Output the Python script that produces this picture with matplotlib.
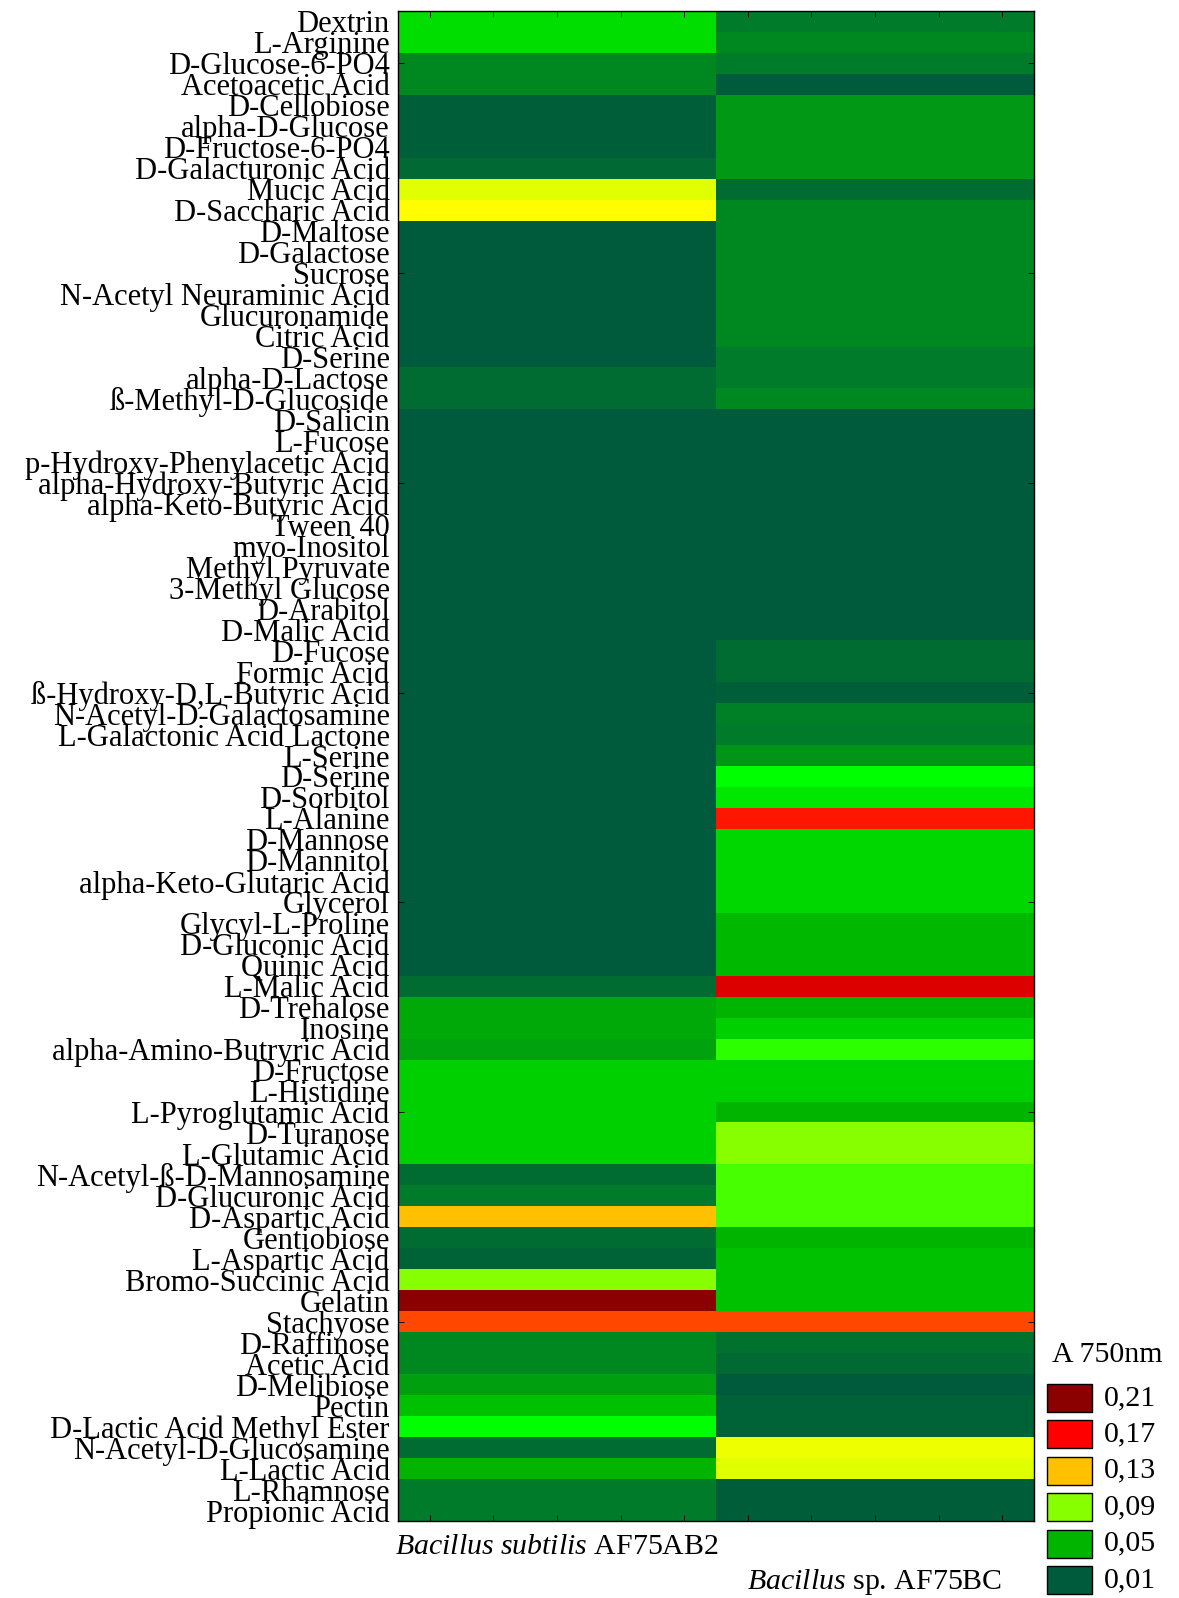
import matplotlib
matplotlib.use("Agg")
import matplotlib.pyplot as plt
import numpy as np
from matplotlib.colors import LinearSegmentedColormap, Normalize
from matplotlib.patches import Rectangle

plt.rcParams['font.family'] = ['Liberation Serif', 'DejaVu Serif']
plt.rcParams['mathtext.fontset'] = 'custom'
plt.rcParams['mathtext.rm'] = 'Liberation Serif'
plt.rcParams['mathtext.it'] = 'Liberation Serif:italic'

substrates = [
    "Dextrin", "L-Arginine", "D-Glucose-6-PO4", "Acetoacetic Acid", "D-Cellobiose",
    "alpha-D-Glucose", "D-Fructose-6-PO4", "D-Galacturonic Acid", "Mucic Acid",
    "D-Saccharic Acid", "D-Maltose", "D-Galactose", "Sucrose", "N-Acetyl Neuraminic Acid",
    "Glucuronamide", "Citric Acid", "D-Serine", "alpha-D-Lactose", "ß-Methyl-D-Glucoside",
    "D-Salicin", "L-Fucose", "p-Hydroxy-Phenylacetic Acid", "alpha-Hydroxy-Butyric Acid",
    "alpha-Keto-Butyric Acid", "Tween 40", "myo-Inositol", "Methyl Pyruvate",
    "3-Methyl Glucose", "D-Arabitol", "D-Malic Acid", "D-Fucose", "Formic Acid",
    "ß-Hydroxy-D,L-Butyric Acid", "N-Acetyl-D-Galactosamine", "L-Galactonic Acid Lactone",
    "L-Serine", "D-Serine", "D-Sorbitol", "L-Alanine", "D-Mannose", "D-Mannitol",
    "alpha-Keto-Glutaric Acid", "Glycerol", "Glycyl-L-Proline", "D-Gluconic Acid",
    "Quinic Acid", "L-Malic Acid", "D-Trehalose", "Inosine", "alpha-Amino-Butryric Acid",
    "D-Fructose", "L-Histidine", "L-Pyroglutamic Acid", "D-Turanose", "L-Glutamic Acid",
    "N-Acetyl-ß-D-Mannosamine", "D-Glucuronic Acid", "D-Aspartic Acid", "Gentiobiose",
    "L-Aspartic Acid", "Bromo-Succinic Acid", "Gelatin", "Stachyose", "D-Raffinose",
    "Acetic Acid", "D-Melibiose", "Pectin", "D-Lactic Acid Methyl Ester",
    "N-Acetyl-D-Glucosamine", "L-Lactic Acid", "L-Rhamnose", "Propionic Acid",
]

b_subtilis = [
    0.065, 0.065, 0.030, 0.030, 0.013, 0.013, 0.013, 0.018, 0.105, 0.110,
    0.010, 0.010, 0.010, 0.010, 0.010, 0.010, 0.010, 0.020, 0.020,
    0.010, 0.010, 0.010, 0.010, 0.010, 0.010, 0.010, 0.010, 0.010, 0.010, 0.010,
    0.010, 0.010, 0.010, 0.010, 0.010, 0.010, 0.010, 0.010, 0.010, 0.010,
    0.010, 0.010, 0.010, 0.010, 0.010, 0.010, 0.020,
    0.045, 0.045, 0.042, 0.060, 0.060, 0.060, 0.060, 0.060,
    0.020, 0.025, 0.130, 0.020, 0.015, 0.090, 0.210, 0.155,
    0.030, 0.030, 0.040, 0.055, 0.075, 0.020, 0.050, 0.025, 0.025,
]

bacillus_sp = [
    0.025, 0.030, 0.025, 0.010, 0.037, 0.037, 0.037, 0.037, 0.020, 0.030,
    0.030, 0.030, 0.030, 0.030, 0.030, 0.030, 0.025, 0.025, 0.030,
    0.010, 0.010, 0.010, 0.010, 0.010, 0.010, 0.010, 0.010, 0.010, 0.010, 0.010,
    0.020, 0.020, 0.013, 0.027, 0.025, 0.035, 0.075, 0.068, 0.165, 0.063,
    0.063, 0.063, 0.063, 0.052, 0.052, 0.052, 0.180,
    0.050, 0.060, 0.080, 0.060, 0.060, 0.050, 0.090, 0.090,
    0.083, 0.083, 0.083, 0.050, 0.055, 0.055, 0.055, 0.155,
    0.022, 0.018, 0.010, 0.015, 0.015, 0.107, 0.105, 0.012, 0.012,
]

strains = [r"$\it{Bacillus\ subtilis}$ AF75AB2", r"$\it{Bacillus}$ sp. AF75BC"]
legend_levels = [0.21, 0.17, 0.13, 0.09, 0.05, 0.01]
legend_title = "A 750nm"

# colour scale (Statistica-like green-yellow-red)
anchors = [
    (0.010, "#005A3C"), (0.020, "#006E32"), (0.030, "#008A20"), (0.040, "#00A010"),
    (0.050, "#00B400"), (0.060, "#00D000"), (0.070, "#00EE00"), (0.075, "#00FF00"),
    (0.090, "#88FF00"), (0.110, "#FFFF00"), (0.130, "#FFC000"), (0.150, "#FF6000"),
    (0.170, "#FF0000"), (0.180, "#DD0000"), (0.210, "#8B0000"),
]
vmin, vmax = 0.01, 0.21
cmap = LinearSegmentedColormap.from_list(
    "stat", [((v - vmin) / (vmax - vmin), c) for v, c in anchors])
norm = Normalize(vmin=vmin, vmax=vmax)

W, H = 1179, 1598
fig = plt.figure(figsize=(W / 100, H / 100), dpi=100)
ax_l, ax_r, ax_t, ax_b = 398, 1034, 11, 1521
ax = fig.add_axes([ax_l / W, 1 - ax_b / H, (ax_r - ax_l) / W, (ax_b - ax_t) / H])

data = np.column_stack([b_subtilis, bacillus_sp])
ax.imshow(data, cmap=cmap, norm=norm, aspect='auto', interpolation='nearest')

fs = 22
fs2 = 21.5
ax.set_yticks(range(len(substrates)))
ax.set_yticklabels(substrates, fontsize=fs)
ax.tick_params(axis='y', which='major', length=0, pad=6)
ax.yaxis.remove_overlapping_locs = False
ax.set_yticks(np.arange(2, len(substrates), 10), minor=True)
ax.tick_params(axis='y', which='minor', direction='in', length=4, left=True, right=True)

ax.set_xticks([])
ax.set_xticks(np.arange(-0.4, 1.45, 0.2), minor=True)
ax.tick_params(axis='x', which='minor', direction='in', length=4, top=True, bottom=True)
ax.set_xlim(-0.5, 1.5)
ax.set_ylim(len(substrates) - 0.5, -0.5)
for s in ax.spines.values():
    s.set_linewidth(1.0)
    s.set_color('black')

# staggered strain labels
trans = ax.get_xaxis_transform()
ax.text(0, -0.0175, strains[0], transform=trans, ha='center', va='center', fontsize=fs2)
ax.text(1, -0.0405, strains[1], transform=trans, ha='center', va='center', fontsize=fs2)

# legend
fig.text(1052 / W, 1 - 1355 / H, legend_title, fontsize=fs2, ha='left', va='center')
bx, bw, bh = 1047, 45, 28
for i, lv in enumerate(legend_levels):
    yc = 1398 + i * 36.4
    fig.add_artist(Rectangle((bx / W, 1 - (yc + bh / 2) / H), bw / W, bh / H,
                             transform=fig.transFigure, facecolor=cmap(norm(lv)),
                             edgecolor='black', linewidth=1.0))
    fig.text(1104 / W, 1 - yc / H, f"{lv:.2f}".replace('.', ','), fontsize=fs2,
             ha='left', va='center')

fig.savefig("out.png", dpi=100)
